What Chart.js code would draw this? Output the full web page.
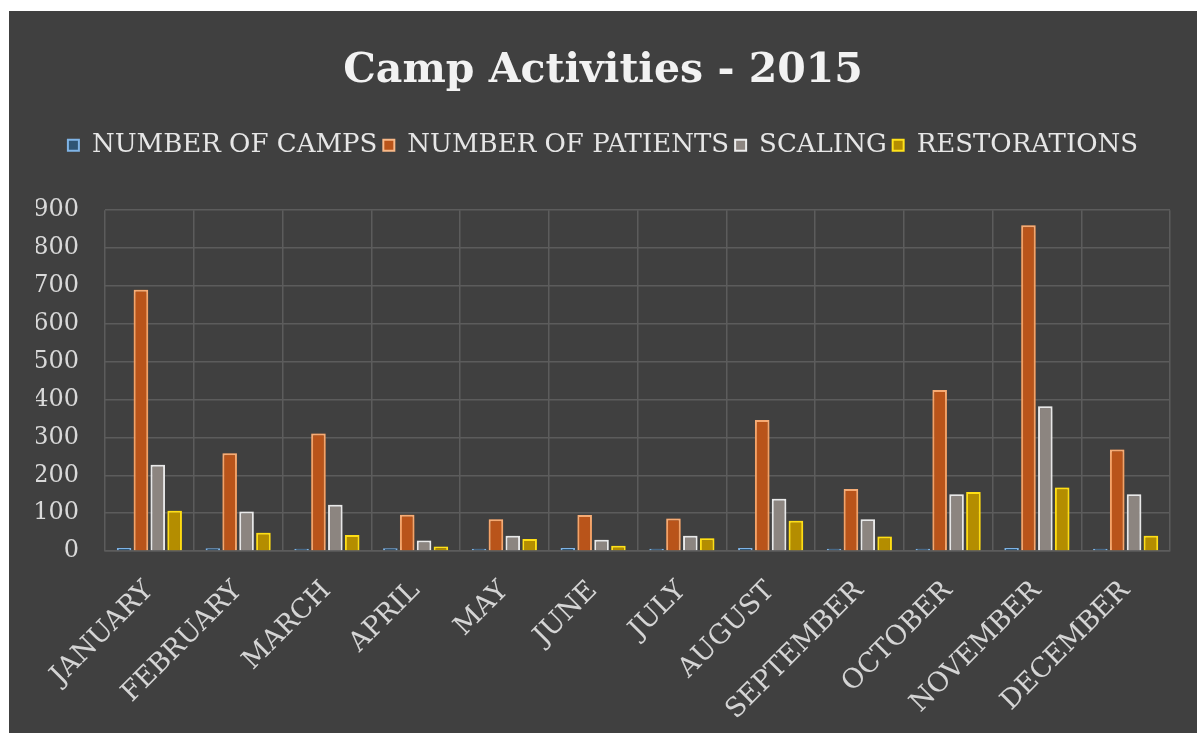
<!DOCTYPE html>
<html>
<head>
<meta charset="utf-8">
<script src="https://cdn.jsdelivr.net/npm/chart.js@4.4.1/dist/chart.umd.min.js"></script>
<style>
  html, body { margin: 0; padding: 0; background: #ffffff; }
  #panel { position: absolute; left: 9px; top: 11px; width: 1188px; height: 722px; background: #404040; }
  canvas { display: block; }
</style>
</head>
<body>
<div id="panel"><canvas id="camps" width="1188" height="722"></canvas></div>
<script>
const months = ['JANUARY', 'FEBRUARY', 'MARCH', 'APRIL', 'MAY', 'JUNE', 'JULY', 'AUGUST', 'SEPTEMBER', 'OCTOBER', 'NOVEMBER', 'DECEMBER'];
const numberOfCamps = [8, 7, 6, 7, 6, 8, 6, 8, 6, 6, 8, 6];
const numberOfPatients = [690, 258, 310, 96, 84, 95, 86, 346, 164, 425, 860, 268];
const scaling = [228, 104, 122, 28, 40, 30, 40, 138, 84, 150, 382, 150];
const restorations = [106, 48, 42, 12, 32, 14, 34, 80, 38, 156, 168, 40];
const yTicks = [0, 100, 200, 300, 400, 500, 600, 700, 800, 900];

const serif = "'DejaVu Serif', serif";
const glowColors = ['rgba(91,155,213,0.9)', 'rgba(237,125,49,0.95)', 'rgba(220,220,220,0.7)', 'rgba(255,210,0,0.9)'];

// Excel-style glow around each bar
const glowPlugin = {
  id: 'glow',
  beforeDatasetDraw(chart, args) {
    const ctx = chart.ctx;
    ctx.save();
    ctx.shadowColor = glowColors[args.index];
    ctx.shadowBlur = 14;
  },
  afterDatasetDraw(chart) {
    chart.ctx.restore();
  }
};

// extra space under the legend
const legendGap = {
  id: 'legendGap',
  beforeInit(chart) {
    const fit = chart.legend.fit;
    chart.legend.fit = function () {
      fit.bind(chart.legend)();
      this.height += 42;
    };
  }
};

const chart = new Chart(document.getElementById('camps'), {
  type: 'bar',
  data: {
    labels: months,
    datasets: [
      {
        label: 'NUMBER OF CAMPS',
        data: numberOfCamps,
        backgroundColor: '#2f5574',
        borderColor: '#7fb4e6',
        borderWidth: 2,
      },
      {
        label: 'NUMBER OF PATIENTS',
        data: numberOfPatients,
        backgroundColor: '#b9541a',
        borderColor: '#f9b887',
        borderWidth: 2,
      },
      {
        label: 'SCALING',
        data: scaling,
        backgroundColor: '#8c8580',
        borderColor: '#ececec',
        borderWidth: 2,
      },
      {
        label: 'RESTORATIONS',
        data: restorations,
        backgroundColor: '#b48d00',
        borderColor: '#ffe21a',
        borderWidth: 2,
      },
    ],
  },
  options: {
    responsive: false,
    animation: false,
    layout: { padding: { left: 27, right: 27, top: 0, bottom: 0 } },
    datasets: {
      bar: { categoryPercentage: 0.76, barPercentage: 0.86 }
    },
    plugins: {
      title: {
        display: true,
        text: 'Camp Activities - 2015',
        color: '#f2f2f2',
        font: { family: serif, size: 41, weight: 'bold' },
        padding: { top: 36, bottom: 30 },
      },
      legend: {
        display: true,
        position: 'top',
        labels: {
          color: '#e6e6e6',
          font: { family: serif, size: 26 },
          boxWidth: 11,
          boxHeight: 11,
          padding: 6,
        },
      },
      tooltip: { enabled: false },
    },
    scales: {
      x: {
        grid: { color: '#5c5c5c', lineWidth: 1.5, drawTicks: false, offset: true },
        border: { color: '#5c5c5c', width: 1.5 },
        ticks: {
          color: '#d4d4d4',
          font: { family: serif, size: 27 },
          minRotation: 45,
          maxRotation: 45,
          padding: 24,
        },
        afterFit(scale) { scale.height = 182; },
      },
      y: {
        min: 0,
        max: 900,
        afterBuildTicks(scale) { scale.ticks = yTicks.map(v => ({ value: v })); },
        grid: { color: '#5c5c5c', lineWidth: 1.5, drawTicks: false },
        border: { display: false },
        ticks: {
          color: '#d9d9d9',
          font: { family: serif, size: 24 },
          padding: 26,
        },
        afterFit(scale) { scale.width = 69; },
      },
    },
  },
  plugins: [glowPlugin, legendGap],
});
</script>
</body>
</html>
